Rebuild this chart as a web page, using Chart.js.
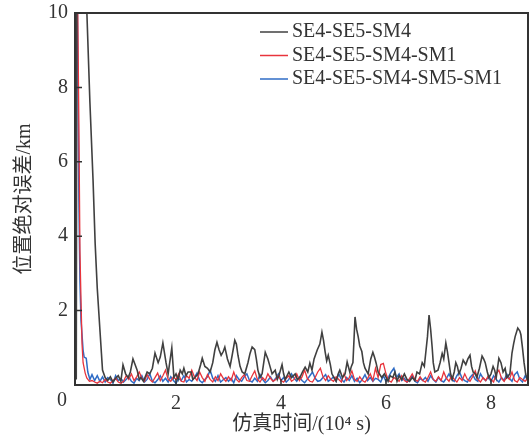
<!DOCTYPE html>
<html>
<head>
<meta charset="utf-8">
<script src="https://cdn.jsdelivr.net/npm/chart.js@4"></script>
<style>
  body { margin: 0; background: #fff; }
</style>
</head>
<body>
<canvas id="c" width="530" height="441"></canvas>
<script>
// series names
const names = ["SE4-SE5-SM4", "SE4-SE5-SM4-SM1", "SE4-SE5-SM4-SM5-SM1"];

// black series: own time stamps (1e4 s) and errors (km)
const blackT = [0.1, 0.115, 0.3, 0.36, 0.42, 0.46, 0.5, 0.55, 0.6, 0.65, 0.7, 0.75, 0.8, 0.85, 0.9, 0.95, 0.99,
  1.04, 1.09, 1.13, 1.18, 1.22, 1.26, 1.3, 1.33, 1.38, 1.45, 1.5, 1.55, 1.6, 1.66, 1.7, 1.75, 1.81, 1.85, 1.92, 1.96,
  2.0, 2.04, 2.08, 2.12, 2.15, 2.19, 2.23, 2.29, 2.32, 2.36, 2.42, 2.47, 2.5, 2.55, 2.6, 2.65, 2.7, 2.74, 2.78, 2.82, 2.86, 2.9, 2.93, 2.98,
  3.03, 3.07, 3.12, 3.15, 3.18, 3.22, 3.26, 3.31, 3.37, 3.41, 3.45, 3.5, 3.53, 3.56, 3.6, 3.64, 3.7, 3.75, 3.79, 3.83, 3.89, 3.93, 3.96,
  4.02, 4.05, 4.08, 4.15, 4.2, 4.27, 4.31, 4.36, 4.41, 4.46, 4.51, 4.55, 4.59, 4.63, 4.69, 4.74, 4.78, 4.81, 4.84, 4.87, 4.9, 4.94, 4.97,
  5.01, 5.05, 5.09, 5.12, 5.17, 5.22, 5.26, 5.31, 5.34, 5.37, 5.39, 5.41, 5.44, 5.47, 5.5, 5.54, 5.57, 5.6, 5.66, 5.71, 5.75, 5.78, 5.81, 5.85, 5.92, 5.97,
  6.04, 6.08, 6.13, 6.17, 6.21, 6.25, 6.3, 6.35, 6.4, 6.45, 6.5, 6.55, 6.59, 6.64, 6.69, 6.73, 6.76, 6.79, 6.82, 6.85, 6.88, 6.9, 6.93, 6.99,
  7.03, 7.07, 7.1, 7.14, 7.17, 7.2, 7.23, 7.26, 7.3, 7.33, 7.36, 7.39, 7.43, 7.47, 7.52, 7.56, 7.6, 7.63, 7.66, 7.7, 7.73, 7.78, 7.83, 7.86, 7.89, 7.93, 7.96,
  8.0, 8.04, 8.07, 8.1, 8.15, 8.19, 8.23, 8.27, 8.3, 8.36, 8.4, 8.43, 8.46, 8.51, 8.55, 8.57, 8.6, 8.63, 8.66, 8.69];
const blackV = [0.15, 14, 10.1, 7.6, 5.5, 3.8, 2.6, 1.5, 0.4, 0.2, 0.12, 0.22, 0.08, 0.18, 0.25, 0.1, 0.54,
  0.3, 0.2, 0.35, 0.7, 0.55, 0.4, 0.15, 0.2, 0.1, 0.35, 0.3, 0.45, 0.86, 0.6, 0.75, 1.13, 0.6, 0.3, 1.0, 0.2,
  0.3, 0.15, 0.4, 0.3, 0.45, 0.25, 0.35, 0.35, 0.15, 0.2, 0.3, 0.55, 0.72, 0.5, 0.45, 0.35, 0.6, 0.94, 1.15, 0.95, 0.8, 0.9, 1.02, 0.7,
  0.5, 0.8, 1.2, 1.1, 0.8, 0.5, 0.35, 0.3, 0.6, 0.85, 1.02, 0.95, 0.7, 0.4, 0.2, 0.3, 0.88, 0.7, 0.5, 0.3, 0.4, 0.15, 0.25,
  0.55, 0.3, 0.15, 0.35, 0.2, 0.3, 0.15, 0.2, 0.35, 0.48, 0.35, 0.59, 0.4, 0.7, 0.94, 1.1, 1.42, 1.2, 0.9, 0.65, 0.8, 0.55, 0.3,
  0.2, 0.1, 0.3, 0.4, 0.2, 0.3, 0.62, 0.35, 0.5, 0.6, 1.2, 1.83, 1.5, 1.3, 1.05, 0.9, 0.6, 0.45, 0.3, 0.7, 0.88, 0.75, 0.6, 0.35, 0.2, 0.3,
  0.1, 0.25, 0.2, 0.35, 0.1, 0.25, 0.15, 0.3, 0.15, 0.1, 0.2, 0.12, 0.35, 0.3, 0.6, 0.5, 0.9, 1.3, 1.88, 1.5, 1.0, 0.6, 0.35, 0.4,
  0.6, 0.85, 0.7, 1.13, 0.9, 0.6, 0.3, 0.15, 0.35, 0.6, 0.5, 0.3, 0.45, 0.67, 0.55, 0.7, 0.8, 0.5, 0.35, 0.3, 0.2, 0.45, 0.78, 0.7, 0.6, 0.35, 0.2,
  0.3, 0.5, 0.4, 0.2, 0.72, 0.6, 0.35, 0.45, 0.2, 0.3, 0.86, 1.1, 1.3, 1.53, 1.45, 1.35, 1.0, 0.6, 0.3, 0.15];

// red / blue: start of convergence, then a common grid from 0.40 every 0.05
const redStartT = [0.1, 0.15, 0.17, 0.19, 0.21, 0.23, 0.27, 0.3, 0.35];
const redStartV = [14, 7, 3.6, 2.3, 1.1, 0.6, 0.32, 0.19, 0.1];
const blueStartT = [0.1, 0.15, 0.17, 0.19, 0.23, 0.25, 0.29, 0.32, 0.36];
const blueStartV = [14, 5, 2.8, 1.75, 0.94, 0.75, 0.72, 0.35, 0.15];

const gridStart = 0.4, gridStep = 0.05;
const redV = [0.12, 0.08, 0.05, 0.10, 0.06, 0.15, 0.08, 0.05, 0.12, 0.18, 0.08, 0.05,
  0.10, 0.25, 0.15, 0.30, 0.12, 0.22, 0.35, 0.18, 0.10, 0.28, 0.15, 0.08, 0.20, 0.32, 0.12, 0.25, 0.40, 0.15, 0.10, 0.22,
  0.15, 0.30, 0.10, 0.08, 0.25, 0.18, 0.40, 0.22, 0.12, 0.35, 0.20, 0.10, 0.28, 0.15, 0.08, 0.22, 0.12, 0.30, 0.18, 0.10,
  0.22, 0.12, 0.35, 0.15, 0.08, 0.20, 0.28, 0.12, 0.10, 0.25, 0.38, 0.15, 0.08, 0.20, 0.12, 0.30, 0.18, 0.10, 0.15, 0.25,
  0.12, 0.08, 0.18, 0.25, 0.10, 0.15, 0.30, 0.12, 0.22, 0.40, 0.18, 0.10, 0.08, 0.20, 0.35, 0.45, 0.22, 0.12, 0.25, 0.15,
  0.10, 0.22, 0.15, 0.08, 0.30, 0.12, 0.20, 0.38, 0.15, 0.10, 0.22, 0.12, 0.08, 0.18, 0.30, 0.12, 0.45, 0.20, 0.55, 0.58,
  0.30, 0.12, 0.08, 0.20, 0.15, 0.10, 0.25, 0.12, 0.08, 0.18, 0.30, 0.15, 0.10, 0.22, 0.12, 0.08, 0.20, 0.35, 0.15, 0.10,
  0.22, 0.12, 0.35, 0.18, 0.10, 0.25, 0.15, 0.08, 0.20, 0.12, 0.30, 0.15, 0.10, 0.22, 0.38, 0.15, 0.08, 0.20, 0.12, 0.25,
  0.15, 0.08, 0.30, 0.40, 0.18, 0.10, 0.22, 0.15, 0.35, 0.12, 0.08, 0.20, 0.15, 0.10, 0.18];
const blueV = [0.28, 0.12, 0.25, 0.10, 0.22, 0.08, 0.20, 0.15, 0.05, 0.25, 0.12, 0.18,
  0.08, 0.15, 0.22, 0.10, 0.05, 0.18, 0.12, 0.25, 0.08, 0.15, 0.30, 0.10, 0.06, 0.14, 0.25, 0.10, 0.18, 0.08, 0.22, 0.12,
  0.05, 0.18, 0.12, 0.25, 0.08, 0.15, 0.10, 0.20, 0.32, 0.12, 0.06, 0.15, 0.22, 0.40, 0.18, 0.10, 0.25, 0.08, 0.14, 0.20,
  0.10, 0.18, 0.06, 0.25, 0.15, 0.10, 0.22, 0.30, 0.12, 0.08, 0.18, 0.10, 0.28, 0.15, 0.06, 0.12, 0.22, 0.10, 0.18, 0.30,
  0.12, 0.20, 0.08, 0.15, 0.30, 0.18, 0.10, 0.22, 0.12, 0.06, 0.15, 0.25, 0.35, 0.18, 0.10, 0.12, 0.20, 0.28, 0.10, 0.15,
  0.22, 0.10, 0.30, 0.15, 0.08, 0.20, 0.12, 0.25, 0.10, 0.18, 0.06, 0.15, 0.28, 0.12, 0.20, 0.10, 0.18, 0.15, 0.08, 0.25,
  0.10, 0.22, 0.35, 0.45, 0.20, 0.30, 0.12, 0.18, 0.08, 0.15, 0.25, 0.10, 0.06, 0.18, 0.12, 0.20, 0.10, 0.25, 0.15, 0.08,
  0.20, 0.12, 0.08, 0.18, 0.30, 0.15, 0.10, 0.25, 0.35, 0.18, 0.12, 0.08, 0.20, 0.28, 0.15, 0.10, 0.30, 0.18, 0.12, 0.22,
  0.10, 0.25, 0.15, 0.08, 0.20, 0.12, 0.30, 0.18, 0.10, 0.28, 0.35, 0.15, 0.08, 0.25, 0.12];

const xTicks = [2, 4, 6, 8];
const yTicks = [2, 4, 6, 8, 10];
const colors = ["#404040", "#e8343c", "#2f6cc6"];

function pts(ts, vs) {
  return ts.map((t, i) => ({ x: t, y: vs[i] }));
}
function withGrid(startT, startV, vals) {
  const out = pts(startT, startV);
  vals.forEach((v, i) => out.push({ x: +(gridStart + i * gridStep).toFixed(2), y: v }));
  return out;
}

const serif = "'Liberation Serif', 'Noto Sans CJK SC', serif";

// inner tick marks, frame, corner "0" and the legend
const decor = {
  id: 'decor',
  afterDatasetsDraw(chart) {
    const ctx = chart.ctx, a = chart.chartArea;
    const xs = chart.scales.x, ys = chart.scales.y;
    ctx.save();
    ctx.strokeStyle = "#333";
    ctx.lineWidth = 2;
    ctx.strokeRect(a.left, a.top, a.right - a.left, a.bottom - a.top);
    ctx.lineWidth = 1.5;
    ctx.beginPath();
    xTicks.forEach(v => {
      const px = xs.getPixelForValue(v);
      ctx.moveTo(px, a.bottom); ctx.lineTo(px, a.bottom - 6);
    });
    yTicks.forEach(v => {
      const py = ys.getPixelForValue(v);
      ctx.moveTo(a.left, py); ctx.lineTo(a.left + 7, py);
    });
    ctx.stroke();

    ctx.fillStyle = "#333";
    ctx.font = "20px " + serif;
    ctx.textAlign = "center";
    ctx.textBaseline = "middle";
    ctx.fillText("0", a.left - 13, a.bottom + 16);

    ctx.textAlign = "left";
    chart.data.datasets.forEach((ds, i) => {
      const y = a.top + 19 + i * 23.5;
      ctx.strokeStyle = ds.borderColor;
      ctx.lineWidth = 1.5;
      ctx.beginPath();
      ctx.moveTo(a.left + 185, y); ctx.lineTo(a.left + 213, y);
      ctx.stroke();
      ctx.fillText(ds.label, a.left + 217, y);
    });
    ctx.restore();
  }
};

new Chart(document.getElementById('c'), {
  type: 'line',
  data: {
    datasets: [
      { label: names[0], data: pts(blackT, blackV), borderColor: colors[0], borderWidth: 1.6 },
      { label: names[1], data: withGrid(redStartT, redStartV, redV), borderColor: colors[1], borderWidth: 1.3 },
      { label: names[2], data: withGrid(blueStartT, blueStartV, blueV), borderColor: colors[2], borderWidth: 1.5 }
    ]
  },
  options: {
    responsive: false,
    animation: false,
    layout: { padding: { top: 13, right: 2, left: 0, bottom: 0 } },
    elements: { point: { radius: 0 }, line: { tension: 0 } },
    plugins: { legend: { display: false }, tooltip: { enabled: false } },
    scales: {
      x: {
        type: 'linear',
        min: 0.076,
        max: 8.705,
        afterBuildTicks: s => { s.ticks = xTicks.map(v => ({ value: v })); },
        afterFit: s => { s.height = 56; s.paddingLeft = 0; s.paddingRight = 0; },
        grid: { display: false, drawTicks: false },
        border: { display: false },
        ticks: { padding: 7, color: "#333", font: { family: serif, size: 20 }, maxRotation: 0 },
        title: { display: true, text: "仿真时间/(10⁴ s)", color: "#333", font: { family: serif, size: 20 }, padding: { top: 0, bottom: 4 } }
      },
      y: {
        min: 0,
        max: 10,
        afterBuildTicks: s => { s.ticks = yTicks.map(v => ({ value: v })); },
        afterFit: s => { s.width = 75; s.paddingTop = 0; s.paddingBottom = 0; },
        grid: { display: false, drawTicks: false },
        border: { display: false },
        ticks: { padding: 7, color: "#333", font: { family: serif, size: 20 } },
        title: { display: true, text: "位置绝对误差/km", color: "#333", font: { family: serif, size: 20 }, padding: { top: 13, bottom: 0 } }
      }
    }
  },
  plugins: [decor]
});
</script>
</body>
</html>
